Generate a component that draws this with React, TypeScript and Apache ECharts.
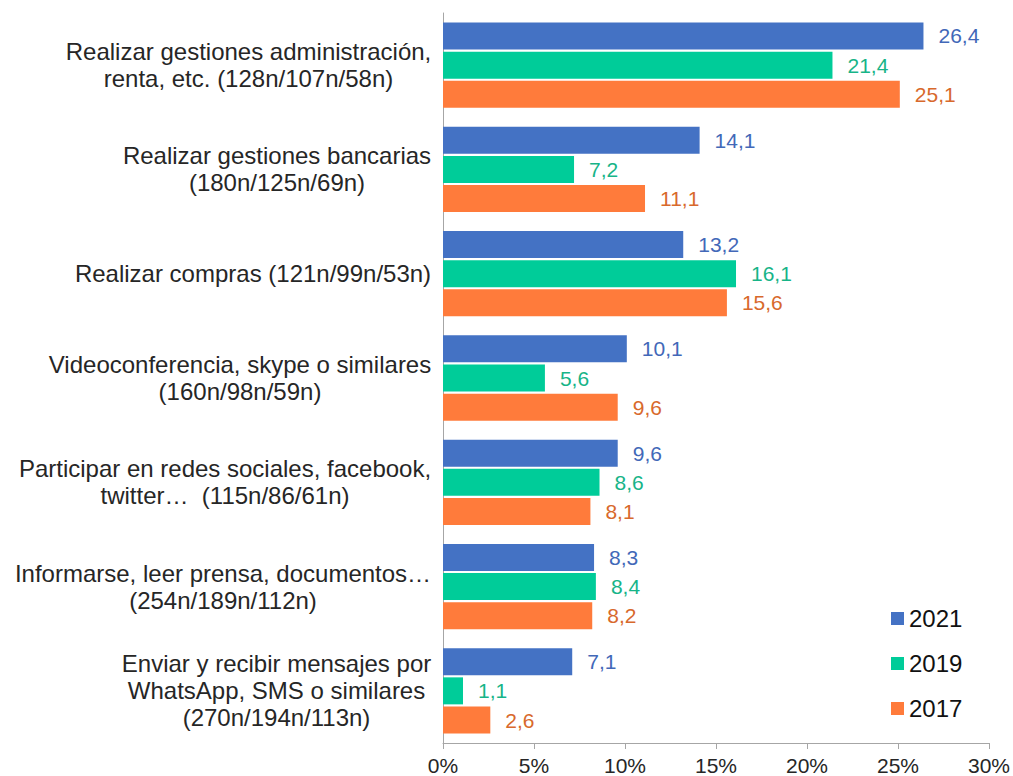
import React, { useEffect, useRef } from "react";
import * as echarts from "echarts";

const categories: string[] = [
  "Realizar gestiones administración,\nrenta, etc. (128n/107n/58n)",
  "Realizar gestiones bancarias\n(180n/125n/69n)",
  "Realizar compras (121n/99n/53n)",
  "Videoconferencia, skype o similares\n(160n/98n/59n)",
  "Participar en redes sociales, facebook,\ntwitter…  (115n/86/61n)",
  "Informarse, leer prensa, documentos…\n(254n/189n/112n)",
  "Enviar y recibir mensajes por\nWhatsApp, SMS o similares\n(270n/194n/113n)",
];

const seriesNames: string[] = ["2021", "2019", "2017"];
const values2021: number[] = [26.4, 14.1, 13.2, 10.1, 9.6, 8.3, 7.1];
const values2019: number[] = [21.4, 7.2, 16.1, 5.6, 8.6, 8.4, 1.1];
const values2017: number[] = [25.1, 11.1, 15.6, 9.6, 8.1, 8.2, 2.6];
const xTicks: number[] = [0, 5, 10, 15, 20, 25, 30];

const barColors = ["#4472C4", "#00CC99", "#FF7B3B"];
const labelColors = ["#4268B8", "#17B488", "#D8692C"];

const FONT = '"Liberation Sans", Arial, sans-serif';

function measureWidths(): number[] {
  const canvas = document.createElement("canvas");
  const ctx = canvas.getContext("2d");
  return categories.map((c) => {
    if (!ctx) return 380;
    ctx.font = `24px ${FONT}`;
    return Math.ceil(Math.max(...c.split("\n").map((l) => ctx.measureText(l).width))) + 1;
  });
}

export default function App() {
  const ref = useRef<HTMLDivElement>(null);

  useEffect(() => {
    if (!ref.current) return;
    const chart = echarts.init(ref.current, undefined, { renderer: "svg" });
    const widths = measureWidths();
    const rich: Record<string, any> = {};
    widths.forEach((w, i) => {
      rich["c" + i] = {
        width: w,
        align: "center",
        fontSize: 24,
        lineHeight: 27,
        fontFamily: FONT,
        color: "#262626",
      };
    });
    const allValues = [values2021, values2019, values2017];
    chart.setOption({
      animation: false,
      backgroundColor: "#ffffff",
      grid: { left: 443, right: 23, top: 13, bottom: 33, containLabel: false },
      legend: {
        orient: "vertical",
        left: 886,
        top: 601,
        itemWidth: 13,
        itemHeight: 13,
        itemGap: 20,
        icon: "rect",
        data: seriesNames,
        textStyle: { fontSize: 24, fontFamily: FONT, color: "#111", lineHeight: 25 },
      },
      xAxis: {
        type: "value",
        min: 0,
        max: 30,
        interval: 5,
        axisLine: { show: true, lineStyle: { color: "#A6A6A6", width: 1 } },
        axisTick: { show: true, length: 6, lineStyle: { color: "#A6A6A6" } },
        splitLine: { show: false },
        axisLabel: {
          margin: 12,
          fontSize: 21,
          fontFamily: FONT,
          color: "#262626",
          formatter: (v: number) => (xTicks.includes(v) ? `${v}%` : ""),
        },
      },
      yAxis: {
        type: "category",
        inverse: true,
        data: categories,
        axisLine: { show: true, lineStyle: { color: "#A6A6A6", width: 1 } },
        axisTick: { show: false },
        axisLabel: {
          margin: 11,
          fontSize: 24,
          fontFamily: FONT,
          color: "#262626",
          formatter: (v: string, idx: number) =>
            v.split("\n").map((l) => `{c${idx}|${l}}`).join("\n"),
          rich,
        },
      },
      series: seriesNames.map((name, si) => ({
        name,
        type: "bar",
        data: allValues[si],
        barWidth: 27,
        barGap: "8%",
        itemStyle: { color: barColors[si] },
        label: {
          show: true,
          position: "right",
          distance: 15,
          fontSize: 21,
          fontFamily: FONT,
          color: labelColors[si],
          formatter: (p: any) => p.value.toFixed(1).replace(".", ","),
        },
      })),
    });
    return () => chart.dispose();
  }, []);

  return (
    <div
      ref={ref}
      style={{ position: "fixed", left: 0, top: 0, width: 1013, height: 776, background: "#fff" }}
    />
  );
}
